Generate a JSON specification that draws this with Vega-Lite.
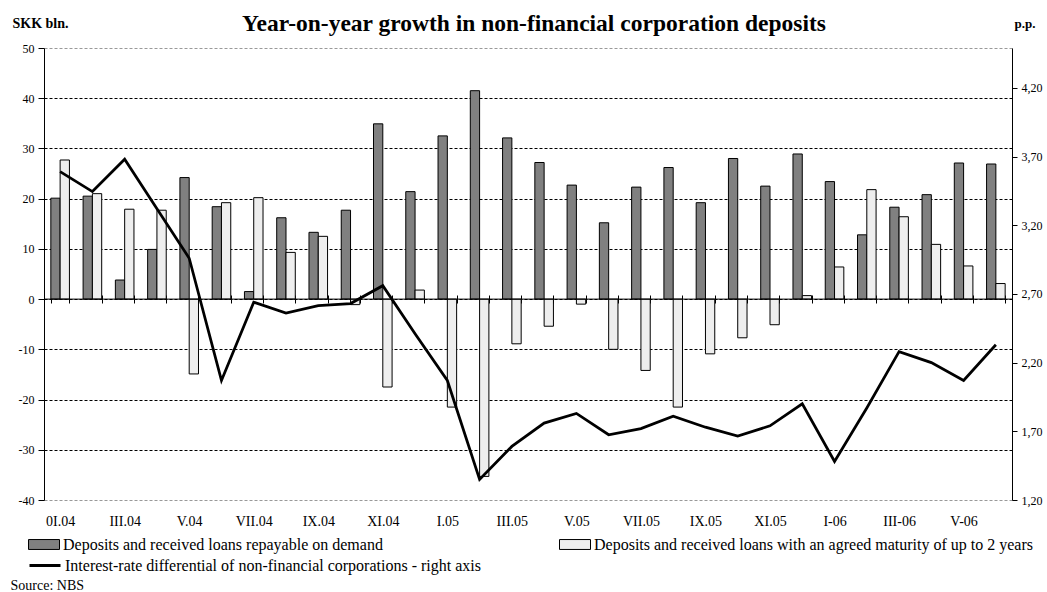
{
  "$schema": "https://vega.github.io/schema/vega-lite/v6.json",
  "width": 968,
  "height": 452,
  "autosize": {"type": "none"},
  "padding": {"left": 44, "top": 48, "right": 35, "bottom": 92},
  "background": "white",
  "config": {
    "font": "Liberation Serif",
    "view": {"stroke": null},
    "axis": {"labelFont": "Liberation Serif", "titleFont": "Liberation Serif", "labelColor": "black", "titleColor": "black"},
    "legend": {"labelFont": "Liberation Serif", "labelColor": "black", "labelFontSize": 16, "labelLimit": 1000, "padding": 0, "labelOffset": 3}
  },
  "title": {
    "text": "Year-on-year growth in non-financial corporation deposits",
    "font": "Liberation Serif",
    "fontSize": 23.5,
    "fontWeight": "bold",
    "color": "black",
    "anchor": "middle",
    "frame": "group",
    "dx": 6,
    "dy": 23
  },
  "data": {
    "values": [
      {"m": "0I.04", "demand": 20.1, "agreed": 27.7, "rate": 3.59},
      {"m": "II.04", "demand": 20.5, "agreed": 21.0, "rate": 3.445},
      {"m": "III.04", "demand": 3.8, "agreed": 17.9, "rate": 3.68},
      {"m": "IV.04", "demand": 9.9, "agreed": 17.7, "rate": 3.32},
      {"m": "V.04", "demand": 24.2, "agreed": -14.9, "rate": 2.96},
      {"m": "VI.04", "demand": 18.4, "agreed": 19.2, "rate": 2.07},
      {"m": "VII.04", "demand": 1.5, "agreed": 20.2, "rate": 2.64},
      {"m": "VIII.04", "demand": 16.2, "agreed": 9.3, "rate": 2.56},
      {"m": "IX.04", "demand": 13.3, "agreed": 12.5, "rate": 2.615},
      {"m": "X.04", "demand": 17.7, "agreed": -1.1, "rate": 2.63},
      {"m": "XI.04", "demand": 34.9, "agreed": -17.5, "rate": 2.76},
      {"m": "XII.04", "demand": 21.4, "agreed": 1.8, "rate": 2.41},
      {"m": "I.05", "demand": 32.5, "agreed": -21.5, "rate": 2.07},
      {"m": "II.05", "demand": 41.5, "agreed": -35.3, "rate": 1.35},
      {"m": "III.05", "demand": 32.1, "agreed": -8.9, "rate": 1.59},
      {"m": "IV.05", "demand": 27.2, "agreed": -5.4, "rate": 1.76},
      {"m": "V.05", "demand": 22.7, "agreed": -1.0, "rate": 1.83},
      {"m": "VI.05", "demand": 15.2, "agreed": -10.0, "rate": 1.675},
      {"m": "VII.05", "demand": 22.3, "agreed": -14.2, "rate": 1.72},
      {"m": "VIII.05", "demand": 26.2, "agreed": -21.5, "rate": 1.81},
      {"m": "IX.05", "demand": 19.2, "agreed": -10.9, "rate": 1.73},
      {"m": "X.05", "demand": 28.0, "agreed": -7.7, "rate": 1.666},
      {"m": "XI.05", "demand": 22.5, "agreed": -5.1, "rate": 1.74},
      {"m": "XII.05", "demand": 28.9, "agreed": 0.7, "rate": 1.90},
      {"m": "I-06", "demand": 23.4, "agreed": 6.4, "rate": 1.48},
      {"m": "II-06", "demand": 12.8, "agreed": 21.8, "rate": 1.87},
      {"m": "III-06", "demand": 18.3, "agreed": 16.4, "rate": 2.28},
      {"m": "IV-06", "demand": 20.8, "agreed": 10.9, "rate": 2.20},
      {"m": "V-06", "demand": 27.1, "agreed": 6.6, "rate": 2.07},
      {"m": "VI-06", "demand": 26.9, "agreed": 3.1, "rate": 2.33}
    ]
  },
  "layer": [
    {
      "layer": [
        {
          "transform": [{"fold": ["demand", "agreed"], "as": ["key", "value"]}],
          "mark": {"type": "bar", "stroke": "black", "strokeWidth": 1},
          "encoding": {
            "x": {
              "field": "m",
              "type": "nominal",
              "sort": null,
              "scale": {
                "domain": ["0I.04","II.04","III.04","IV.04","V.04","VI.04","VII.04","VIII.04","IX.04","X.04","XI.04","XII.04","I.05","II.05","III.05","IV.05","V.05","VI.05","VII.05","VIII.05","IX.05","X.05","XI.05","XII.05","I-06","II-06","III-06","IV-06","V-06","VI-06"],
                "paddingInner": 0.424,
                "paddingOuter": 0.212
              },
              "axis": {
                "orient": "bottom",
                "offset": -205,
                "domain": false,
                "ticks": true,
                "tickBand": "extent",
                "tickSize": 8,
                "tickColor": "black",
                "tickWidth": 1,
                "grid": false,
                "labelFont": "Liberation Serif",
                "labelFontSize": 14,
                "labelPadding": 211,
                "labelAngle": 0,
                "labelOverlap": false,
                "labelFlush": false,
                "labelExpr": "indexof(['0I.04','III.04','V.04','VII.04','IX.04','XI.04','I.05','III.05','V.05','VII.05','IX.05','XI.05','I-06','III-06','V-06'], datum.value) >= 0 ? datum.value : ''",
                "title": "Source: NBS",
                "titleFont": "Liberation Serif",
                "titleFontSize": 14,
                "titleFontWeight": "normal",
                "titleAnchor": "start",
                "titleAlign": "left",
                "titleBaseline": "alphabetic",
                "titleX": -34,
                "titleY": 294
              }
            },
            "xOffset": {
              "field": "key",
              "type": "nominal",
              "sort": ["demand", "agreed"],
              "scale": {"domain": ["demand", "agreed"], "paddingInner": 0, "paddingOuter": 0}
            },
            "y": {
              "field": "value",
              "type": "quantitative",
              "scale": {"domain": [-40, 50], "nice": false, "zero": false},
              "axis": {
                "orient": "left",
                "values": [-40, -30, -20, -10, 0, 10, 20, 30, 40, 50],
                "labelExpr": "datum.value + ''",
                "domain": true,
                "domainColor": "black",
                "ticks": true,
                "tickColor": "black",
                "tickSize": 6,
                "labelFont": "Liberation Serif",
                "labelFontSize": 12,
                "labelPadding": 4,
                "grid": true,
                "gridColor": {"condition": {"test": "datum.value === 50 || datum.value === -40", "value": "#999999"}, "value": "black"},
                "gridDash": [3, 2],
                "gridWidth": 1,
                "title": "SKK bln.",
                "titleFont": "Liberation Serif",
                "titleAngle": 0,
                "titleFontSize": 14,
                "titleFontWeight": "bold",
                "titleAlign": "left",
                "titleBaseline": "alphabetic",
                "titleX": -32,
                "titleY": -21
              }
            },
            "fill": {
              "field": "key",
              "type": "nominal",
              "scale": {"domain": ["demand", "agreed"], "range": ["#808080", "#eeeeee"]},
              "legend": {
                "orient": "none",
                "legendX": -16,
                "legendY": 480.5,
                "direction": "horizontal",
                "columns": 2,
                "columnPadding": 174,
                "title": null,
                "labelFont": "Liberation Serif",
                "symbolType": "M-1,-0.32H1V0.32H-1Z",
                "symbolSize": 961,
                "symbolStrokeColor": "black",
                "symbolStrokeWidth": 1,
                "symbolOpacity": 1,
                "labelExpr": "datum.label == 'demand' ? 'Deposits and received loans repayable on demand' : 'Deposits and received loans with an agreed maturity of up to 2 years'"
              }
            }
          }
        },
        {
          "data": {"values": [{}]},
          "mark": {"type": "rule", "color": "black", "strokeWidth": 1},
          "encoding": {"y": {"datum": 0, "type": "quantitative"}}
        }
      ]
    },
    {
      "mark": {"type": "line", "strokeWidth": 2.75},
      "encoding": {
        "x": {"field": "m", "type": "nominal", "sort": null},
        "y": {
          "field": "rate",
          "type": "quantitative",
          "scale": {"domain": [1.2, 4.49], "nice": false, "zero": false},
          "axis": {
            "orient": "right",
            "values": [1.2, 1.7, 2.2, 2.7, 3.2, 3.7, 4.2],
            "labelExpr": "replace(format(datum.value, '.2f'), '.', ',')",
            "domain": true,
            "domainColor": "black",
            "ticks": true,
            "tickColor": "black",
            "tickSize": 5,
            "labelPadding": 4,
            "labelFont": "Liberation Serif",
            "labelFontSize": 12,
            "grid": false,
            "title": "p.p.",
            "titleFont": "Liberation Serif",
            "titleAngle": 0,
            "titleFontSize": 13,
            "titleFontWeight": "bold",
            "titleAlign": "left",
            "titleBaseline": "alphabetic",
            "titleX": 2,
            "titleY": -21
          }
        },
        "stroke": {
          "datum": "Interest-rate differential of non-financial corporations - right axis",
          "type": "nominal",
          "scale": {"range": ["black"]},
          "legend": {
            "orient": "none",
            "legendX": -16,
            "legendY": 500.5,
            "title": null,
            "labelFont": "Liberation Serif",
            "symbolType": "stroke",
            "symbolSize": 961,
            "symbolStrokeWidth": 3
          }
        }
      }
    }
  ],
  "resolve": {"scale": {"y": "independent"}}
}
